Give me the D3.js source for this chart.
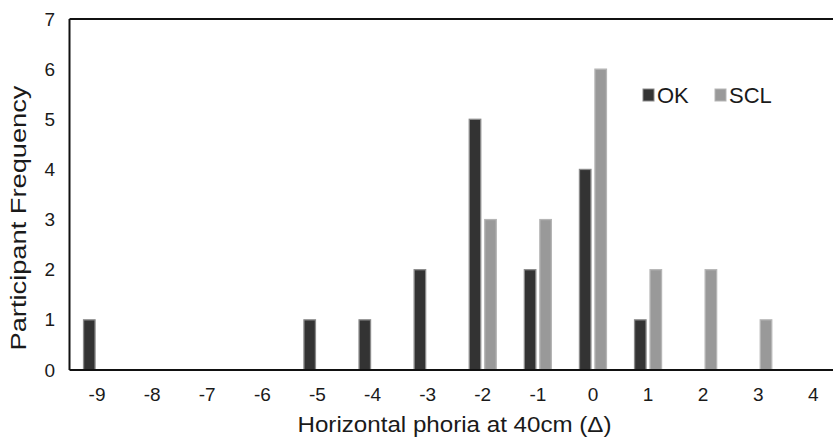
<!DOCTYPE html>
<html>
<head>
<meta charset="utf-8">
<script src="https://cdn.jsdelivr.net/npm/d3@7"></script>
<style>
  body { margin: 0; background: #fff; }
  text { font-family: "Liberation Sans", Arial, sans-serif; fill: #1a1a1a; }
</style>
</head>
<body>
<svg id="chart"></svg>
<script>
var categories = ["-9", "-8", "-7", "-6", "-5", "-4", "-3", "-2", "-1", "0", "1", "2", "3", "4"];
var okValues  = [1, 0, 0, 0, 1, 1, 2, 5, 2, 4, 1, 0, 0, 0];
var sclValues = [0, 0, 0, 0, 0, 0, 0, 3, 3, 6, 2, 2, 1, 0];
var seriesNames = ["OK", "SCL"];
var yTicks = [0, 1, 2, 3, 4, 5, 6, 7];

var width = 833;
var height = 440;
var svg = d3.select("#chart").attr("width", width).attr("height", height);

// plot area runs past the right edge, like the cropped original
var plotLeft = 69.5, plotTop = 19, plotBottom = 370;
var plotRight = plotLeft + 55.1 * categories.length;

var x = d3.scaleBand().domain(categories).range([plotLeft, plotRight]).padding(0);
var y = d3.scaleLinear().domain([0, 7]).range([plotBottom, plotTop]);

var fills = { OK: "#333333", SCL: "#999999" };
var strokes = { OK: "#8a8a8a", SCL: "#b5b5b5" };

var barW = 11.5, gap = 4;

var rows = categories.map(function(c, i) {
  return { cat: c, OK: okValues[i], SCL: sclValues[i] };
});

var groups = svg.append("g").selectAll("g")
  .data(rows)
  .enter().append("g");

seriesNames.forEach(function(name, k) {
  groups.filter(function(d) { return d[name] > 0; })
    .append("rect")
    .attr("x", function(d) {
      var c = x(d.cat) + x.bandwidth() / 2;
      return k === 0 ? c - gap / 2 - barW : c + gap / 2;
    })
    .attr("y", function(d) { return y(d[name]); })
    .attr("width", barW)
    .attr("height", function(d) { return plotBottom - y(d[name]); })
    .style("fill", fills[name])
    .style("stroke", strokes[name])
    .style("stroke-width", 1.3);
});

// frame lines: left, top, baseline
svg.append("line").attr("x1", plotLeft).attr("x2", plotLeft).attr("y1", plotTop).attr("y2", plotBottom)
  .style("stroke", "#111").style("stroke-width", 2);
svg.append("line").attr("x1", plotLeft).attr("x2", plotRight).attr("y1", plotTop).attr("y2", plotTop)
  .style("stroke", "#111").style("stroke-width", 2);
svg.append("line").attr("x1", plotLeft).attr("x2", plotRight).attr("y1", plotBottom).attr("y2", plotBottom)
  .style("stroke", "#111").style("stroke-width", 2);

// y axis
var yAxis = d3.axisLeft(y).tickValues(yTicks).tickFormat(d3.format("d")).tickSize(0).tickPadding(14.5);
var gy = svg.append("g").attr("transform", "translate(" + plotLeft + ",0)").call(yAxis);
gy.select(".domain").remove();
gy.selectAll("text").style("font-size", "19px");

// x axis
var xAxis = d3.axisBottom(x).tickSize(0).tickPadding(18);
var gx = svg.append("g").attr("transform", "translate(0," + plotBottom + ")").call(xAxis);
gx.select(".domain").remove();
gx.selectAll("text").style("font-size", "19px");

// axis titles (original glyphs are a bit wider than the font, so stretch to length)
svg.append("text")
  .attr("x", 454.5).attr("y", 432)
  .attr("text-anchor", "middle")
  .attr("textLength", 314)
  .attr("lengthAdjust", "spacingAndGlyphs")
  .style("font-size", "22px")
  .text("Horizontal phoria at 40cm (\u0394)");

svg.append("text")
  .attr("transform", "translate(26,218) rotate(-90)")
  .attr("text-anchor", "middle")
  .attr("textLength", 265)
  .attr("lengthAdjust", "spacingAndGlyphs")
  .style("font-size", "22px")
  .text("Participant Frequency");

// legend
var legend = svg.append("g").attr("transform", "translate(643,88)");
var legendX = [0, 72];
seriesNames.forEach(function(name, k) {
  legend.append("rect")
    .attr("x", legendX[k]).attr("y", 1)
    .attr("width", 11).attr("height", 12)
    .style("fill", fills[name])
    .style("stroke", strokes[name])
    .style("stroke-width", 1);
  legend.append("text")
    .attr("x", legendX[k] + 14).attr("y", 15)
    .style("font-size", "22px")
    .text(name);
});
</script>
</body>
</html>
